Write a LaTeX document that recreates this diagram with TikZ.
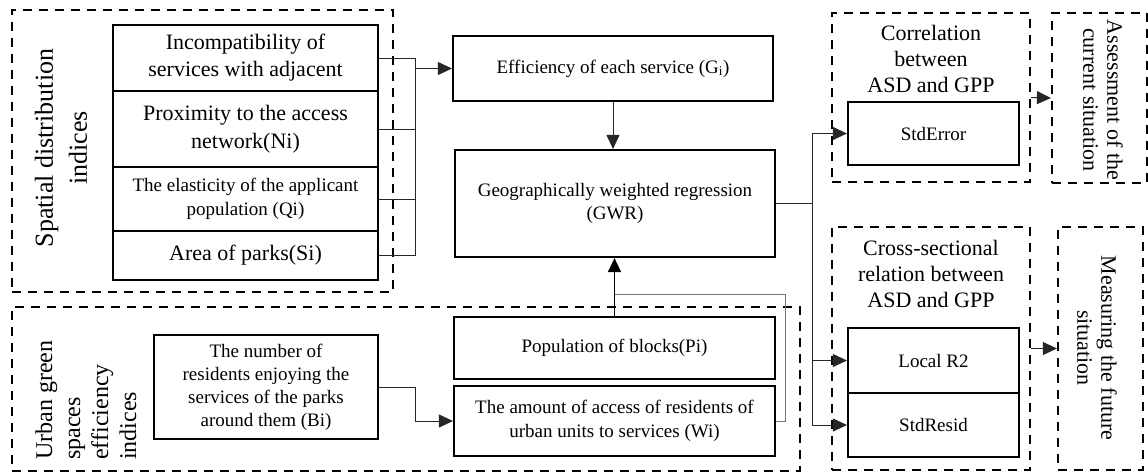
\documentclass[tikz,border=0pt]{standalone}
\usepackage{fontspec}
\setmainfont{Liberation Serif}
\usetikzlibrary{arrows.meta}

\newcommand{\fs}[2]{\fontsize{#1}{#2}\selectfont}

\tikzset{
  box/.style={draw,line width=2.2pt,inner sep=0pt,align=center},
  group/.style={draw,line width=2.2pt,dash pattern=on 9pt off 7pt,
                inner sep=0pt},
  link/.style={draw=black!85,line width=1pt},
  tip/.style={link,-{Triangle[length=14pt,width=13pt]}}
}

\begin{document}
\begin{tikzpicture}[x=1pt,y=-1pt]

\useasboundingbox (0,0) rectangle (1148,475);

% dashed groups
\node[group,minimum width=381pt,minimum height=282pt]
     at (202.5,151) (spatial) {};
\node[group,minimum width=788pt,minimum height=164pt]
     at (406,389) (urban) {};
\node[group,minimum width=198pt,minimum height=169pt]
     at (931,97.5) (corr) {};
\node[group,minimum width=95pt,minimum height=170pt]
     at (1099.5,98) (assess) {};
\node[group,minimum width=198pt,minimum height=243pt]
     at (931,348.5) (cross) {};
\node[group,minimum width=85pt,minimum height=243pt]
     at (1100.5,348.5) (future) {};

% group captions
\node[rotate=90,align=center,inner sep=0pt,font=\fs{26}{34}]
     at (61,148) (spatialCap)
     {Spatial distribution\\indices};
\node[rotate=90,anchor=west,align=left,inner sep=0pt,
      font=\fs{24}{28}]
     at (86,460) (urbanCap)
     {Urban green\\spaces\\efficiency\\indices};
\node[align=center,inner sep=0pt,font=\fs{22}{26}]
     at (931,59) (corrCap)
     {Correlation\\between\\ASD and GPP};
\node[align=center,inner sep=0pt,font=\fs{22}{26}]
     at (931,274) (crossCap)
     {Cross-sectional\\relation between\\ASD and GPP};
\node[rotate=-90,align=center,inner sep=0pt,font=\fs{22}{24}]
     at (1103,100) (assessCap)
     {Assessment of the\\current situation};
\node[rotate=-90,align=center,inner sep=0pt,font=\fs{22}{24}]
     at (1097,348) (futureCap)
     {Measuring the future\\situation};

% spatial indices
\node[box,minimum width=265pt,minimum height=66pt,font=\fs{22}{27}]
     at (245.5,58) (inc)
     {Incompatibility of\\services with adjacent};
\node[box,minimum width=265pt,minimum height=76pt,font=\fs{22}{28}]
     at (245.5,129) (prox)
     {Proximity to the access\\network(Ni)};
\node[box,minimum width=265pt,minimum height=64pt,font=\fs{19}{24}]
     at (245.5,199) (elas)
     {The elasticity of the applicant\\population (Qi)};
\node[box,minimum width=265pt,minimum height=49pt,font=\fs{22}{27}]
     at (245.5,255.5) (area)
     {Area of parks(Si)};

% middle column
\node[box,minimum width=320pt,minimum height=65pt,font=\fs{19}{23}]
     at (613,68.5) (eff)
     {Efficiency of each service (G\textsubscript{i})};
\node[box,minimum width=320pt,minimum height=107pt,font=\fs{19}{23}]
     at (615,203.5) (gwr)
     {Geographically weighted regression\\(GWR)};
\node[box,minimum width=321pt,minimum height=62pt,font=\fs{19}{23}]
     at (614.5,348) (pop)
     {Population of blocks(Pi)};
\node[box,minimum width=321pt,minimum height=70pt,font=\fs{19}{24}]
     at (614.5,421) (wi)
     {The amount of access of residents of\\urban units to services (Wi)};
\node[box,minimum width=224pt,minimum height=104pt,font=\fs{19}{23}]
     at (266,387) (bi)
     {The number of\\residents enjoying the\\services of the parks\\around them (Bi)};

% outputs
\node[box,minimum width=171pt,minimum height=63pt,font=\fs{19}{23}]
     at (933.5,133.5) (stdErr) {StdError};
\node[box,minimum width=171pt,minimum height=65pt,font=\fs{19}{23}]
     at (933.5,360.5) (localR) {Local R2};
\node[box,minimum width=171pt,minimum height=64pt,font=\fs{19}{23}]
     at (933.5,425) (stdRes) {StdResid};

% connectors
\coordinate (sBus) at (415,0);
\coordinate (gBus) at (812,0);
\coordinate (wLoop) at (785,294);

\draw[link] (inc.east) -| (sBus |- area.east) -- (area.east);
\draw[link] (prox.east) -- (prox.east -| sBus);
\draw[link] (elas.east) -- (elas.east -| sBus);
\draw[tip] (sBus |- eff.west) -- (eff.west);

\draw[tip] (eff.south) -- (eff.south |- gwr.north);
\draw[tip,line width=1.5pt,draw=black]
     (pop.north) -- (pop.north |- gwr.south);
\draw[link,draw=black!55]
     (wi.east) -| (wLoop) -- (wLoop -| pop.north);

\draw[tip] (bi.east) -- (bi.east -| sBus) |- (wi.west);

\draw[link] (gwr.east) -- (gwr.east -| gBus);
\draw[tip] (gwr.east -| gBus) |- (stdErr.west);
\draw[tip] (gwr.east -| gBus) |- (localR.west);
\draw[tip] (gwr.east -| gBus) |- (stdRes.west);

\draw[tip] (corr.east) -- (assess.west);
\draw[tip] (cross.east) -- (future.west);

\end{tikzpicture}
\end{document}
